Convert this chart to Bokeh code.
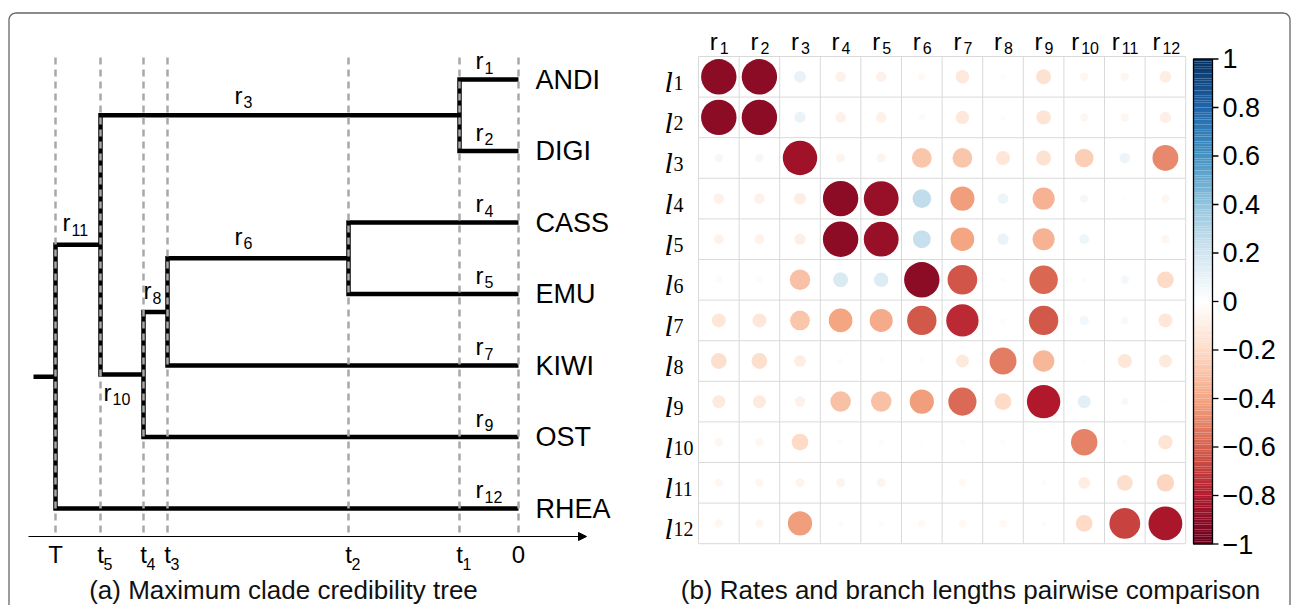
import numpy as np
from bokeh.plotting import figure
from bokeh.models import Range1d, Arrow, NormalHead
from bokeh.core.properties import value
from bokeh.embed import file_html
from bokeh.resources import INLINE

# ---------------- data ----------------
tip_names = ["ANDI", "DIGI", "CASS", "EMU", "KIWI", "OST", "RHEA"]
time_labels = ["T", "t5", "t4", "t3", "t2", "t1", "0"]
time_ages = [46.3, 41.8, 37.5, 35.1, 17.0, 5.9, 0.0]
# internal nodes: (node, age label, first child, second child)
clades = [
    ("n1", "t1", "ANDI", "DIGI"),
    ("n2", "t2", "CASS", "EMU"),
    ("n3", "t3", "n2", "KIWI"),
    ("n4", "t4", "n3", "OST"),
    ("n5", "t5", "n1", "n4"),
    ("root", "T", "n5", "RHEA"),
]
# branch (named by its lower node) -> rate index
branch_rate = {"ANDI": 1, "DIGI": 2, "n1": 3, "CASS": 4, "EMU": 5, "n2": 6,
               "KIWI": 7, "n3": 8, "OST": 9, "n4": 10, "n5": 11, "RHEA": 12}

rate_idx = [str(i) for i in range(1, 13)]
length_idx = [str(i) for i in range(1, 13)]
# rows: l1..l12, columns: r1..r12
corr = [
    [-0.90, -0.90, 0.10, -0.08, -0.08, -0.04, -0.13, -0.02, -0.16, -0.05, -0.05, -0.10],
    [-0.90, -0.90, 0.09, -0.08, -0.08, -0.03, -0.13, 0.02, -0.15, -0.05, -0.05, -0.09],
    [0.05, 0.05, -0.85, -0.06, -0.06, -0.28, -0.28, -0.14, -0.16, -0.25, 0.08, -0.48],
    [-0.08, -0.08, -0.10, -0.90, -0.87, 0.25, -0.42, 0.08, -0.35, 0.05, -0.01, -0.05],
    [-0.07, -0.07, -0.09, -0.90, -0.87, 0.23, -0.40, 0.09, -0.35, 0.07, 0.01, -0.05],
    [-0.03, -0.03, -0.30, 0.16, 0.15, -0.90, -0.63, -0.02, -0.58, -0.02, 0.05, -0.20],
    [-0.14, -0.14, -0.28, -0.40, -0.38, -0.62, -0.75, -0.02, -0.62, 0.06, 0.04, -0.14],
    [-0.18, -0.18, -0.10, -0.02, -0.02, -0.02, -0.12, -0.52, -0.33, -0.01, -0.14, -0.12],
    [-0.12, -0.12, -0.08, -0.30, -0.30, -0.42, -0.57, -0.20, -0.80, 0.12, 0.04, -0.01],
    [-0.05, -0.05, -0.20, -0.02, -0.02, -0.01, -0.02, -0.02, 0.00, -0.50, -0.02, -0.15],
    [-0.05, -0.05, -0.06, -0.06, -0.06, 0.00, -0.04, -0.01, -0.02, -0.10, -0.18, -0.22],
    [-0.05, -0.05, -0.42, -0.02, -0.02, -0.04, -0.04, -0.04, -0.02, -0.20, -0.68, -0.82],
]
cbar_ticks = [1, 0.8, 0.6, 0.4, 0.2, 0, -0.2, -0.4, -0.6, -0.8, -1]

# ---------------- styling ----------------
SANS = value("Liberation Sans")
SERIF = value("Liberation Serif")
rdbu = ["#67001F", "#B2182B", "#D6604D", "#F4A582", "#FDDBC7", "#FFFFFF",
        "#D1E5F0", "#92C5DE", "#4393C3", "#2166AC", "#053061"]


def rdbu_color(v):
    pos = (np.clip(v, -1, 1) + 1) / 2 * (len(rdbu) - 1)
    i = min(int(np.floor(pos)), len(rdbu) - 2)
    f = pos - i
    a = np.array([int(rdbu[i][k:k + 2], 16) for k in (1, 3, 5)])
    b = np.array([int(rdbu[i + 1][k:k + 2], 16) for k in (1, 3, 5)])
    c = np.round(a + (b - a) * f).astype(int)
    return "#%02x%02x%02x" % tuple(c)


W, H = 1293, 605
p = figure(width=W, height=H, output_backend="svg", toolbar_location=None,
           x_range=Range1d(51.8, -77.5), y_range=Range1d(7.3566, -1.1049),
           x_axis_type=None, y_axis_type=None, min_border=0)
p.grid.visible = False
p.outline_line_color = None
p.background_fill_color = "white"
p.border_fill_color = "white"
p.extra_x_ranges = {"page": Range1d(0, W), "col": Range1d(-16.692, 15.155)}
p.extra_y_ranges = {"page": Range1d(H, 0), "row": Range1d(14.022, -0.879),
                    "cb": Range1d(-1.2536, 1.2412)}

# rounded frame around the figure
rad = 7
t1 = np.linspace(np.pi, 1.5 * np.pi, 12)
t2 = np.linspace(1.5 * np.pi, 2 * np.pi, 12)
fx = np.concatenate([[8.5], 8.5 + rad + rad * np.cos(t1), 1289.5 - rad + rad * np.cos(t2), [1289.5]])
fy = np.concatenate([[640], 12.5 + rad + rad * np.sin(t1), 12.5 + rad + rad * np.sin(t2), [640]])
p.line(fx, fy, x_range_name="page", y_range_name="page", line_color="#666666", line_width=1.3)

# ---------------- (a) tree ----------------
age_of = dict(zip(time_labels, time_ages))
node_age = {t: 0.0 for t in tip_names}
node_y = {t: float(i) for i, t in enumerate(tip_names)}
for node, lab, a, b in clades:
    node_age[node] = age_of[lab]
    node_y[node] = (node_y[a] + node_y[b]) / 2

xs, ys = [], []
for node, lab, a, b in clades:
    age = node_age[node]
    xs.append([node_age[a], age, age, node_age[b]])
    ys.append([node_y[a], node_y[a], node_y[b], node_y[b]])
root_age = node_age["root"]
xs.append([root_age + 2.2, root_age])
ys.append([node_y["root"], node_y["root"]])
p.multi_line(xs, ys, line_color="black", line_width=4.5, line_join="miter", line_cap="butt")

# dashed time guides
p.segment(x0=time_ages, y0=[57] * 7, x1=time_ages, y1=[536] * 7, y_range_name="page",
          line_color="#A8A8A8", line_width=2.5, line_dash="7 5")

# time axis
p.add_layout(Arrow(x_start=28, y_start=536, x_end=586, y_end=536,
                   x_range_name="page", y_range_name="page", line_width=1.2,
                   end=NormalHead(size=8, fill_color="black", line_color="black", line_width=1)))
main_t = [s[0] for s in time_labels]
sub_t = [s[1:] for s in time_labels]
p.text(x=time_ages, y=[554] * 7, text=main_t, y_range_name="page", text_align="center",
       text_baseline="alphabetic", text_font=SANS, text_font_size="24px", text_color="black")
sub_x = [a for a, s in zip(time_ages, sub_t) if s]
p.text(x=sub_x, y=[563] * len(sub_x), text=[s for s in sub_t if s], y_range_name="page",
       x_offset=3, text_align="left", text_baseline="alphabetic", text_font=SANS,
       text_font_size="16px", text_color="black")

# tip names
p.text(x=[0.0] * 7, y=[node_y[t] for t in tip_names], text=tip_names, x_offset=17,
       text_align="left", text_baseline="middle", text_font=SANS, text_font_size="27px",
       text_color="black")

# rate labels on branches: anchor time, horizontal offset (px), vertical offset (px)
label_anchor = {1: ("t1", 16, -19), 2: ("t1", 16, -19), 3: ("t3", 67, -20),
                4: ("t1", 16, -19), 5: ("t1", 16, -19), 6: ("t3", 67, -22),
                7: ("t1", 16, -19), 8: ("t4", 0, -21), 9: ("t1", 16, -19),
                10: ("t5", 3, 18), 11: ("T", 7, -22), 12: ("t1", 16, -19)}
lx, ly, lxo, lyo, lsub = [], [], [], [], []
for br, r in branch_rate.items():
    lab, dx, dy = label_anchor[r]
    lx.append(age_of[lab])
    ly.append(node_y[br])
    lxo.append(dx)
    lyo.append(dy)
    lsub.append(rate_idx[r - 1])
p.text(x=lx, y=ly, text=["r"] * len(lx), x_offset=lxo, y_offset=lyo, text_align="left",
       text_baseline="alphabetic", text_font=SANS, text_font_size="24px", text_color="black")
p.text(x=lx, y=ly, text=lsub, x_offset=[d + 9 for d in lxo], y_offset=[d + 7 for d in lyo],
       text_align="left", text_baseline="alphabetic", text_font=SANS, text_font_size="16px",
       text_color="black")

# ---------------- (b) correlation circles ----------------
n = len(rate_idx)
edges = np.arange(n + 1) + 0.5
p.segment(x0=edges, y0=[0.5] * (n + 1), x1=edges, y1=[n + 0.5] * (n + 1),
          x_range_name="col", y_range_name="row", line_color="#D9D9D9", line_width=1)
p.segment(x0=[0.5] * (n + 1), y0=edges, x1=[n + 0.5] * (n + 1), y1=edges,
          x_range_name="col", y_range_name="row", line_color="#D9D9D9", line_width=1)

cx, cy, cr, cc = [], [], [], []
for i, row in enumerate(corr):
    for j, v in enumerate(row):
        cx.append(j + 1)
        cy.append(i + 1)
        cr.append(0.46 * np.sqrt(abs(v)))
        cc.append(rdbu_color(v))
p.circle(x=cx, y=cy, radius=cr, fill_color=cc, line_color=None,
         x_range_name="col", y_range_name="row")

# column labels r_j
cols = np.arange(1, n + 1)
p.text(x=cols, y=[41] * n, text=["r"] * n, x_range_name="col", y_range_name="page",
       x_offset=[-1 - 4 * (len(s) - 1) for s in rate_idx], text_align="right",
       text_baseline="alphabetic", text_font=SANS, text_font_size="24px", text_color="black")
p.text(x=cols, y=[47] * n, text=rate_idx, x_range_name="col", y_range_name="page",
       x_offset=[1 - 4 * (len(s) - 1) for s in rate_idx], text_align="left",
       text_baseline="alphabetic", text_font=SANS, text_font_size="16px", text_color="black")

# row labels l_i
p.text(x=[664] * n, y=cols, text=["l"] * n, x_range_name="page", y_range_name="row",
       y_offset=5, text_align="left", text_baseline="alphabetic", text_font=SERIF,
       text_font_style="italic", text_font_size="30px", text_color="black")
p.text(x=[673] * n, y=cols, text=length_idx, x_range_name="page", y_range_name="row",
       y_offset=6, text_align="left", text_baseline="alphabetic", text_font=SERIF,
       text_font_size="20px", text_color="black")

# colour bar
steps = np.linspace(-1, 1, 201)
p.quad(left=[1193] * 200, right=[1212] * 200, bottom=steps[:-1], top=steps[1:],
       fill_color=[rdbu_color((a + b) / 2) for a, b in zip(steps[:-1], steps[1:])],
       line_color=None, x_range_name="page", y_range_name="cb")
p.quad(left=[1193], right=[1212], bottom=[-1], top=[1], fill_color=None,
       line_color="black", line_width=1.3, x_range_name="page", y_range_name="cb")
p.segment(x0=[1212] * len(cbar_ticks), y0=cbar_ticks, x1=[1218] * len(cbar_ticks), y1=cbar_ticks,
          line_color="black", line_width=1.3, x_range_name="page", y_range_name="cb")
p.text(x=[1222] * len(cbar_ticks), y=cbar_ticks,
       text=[("\u2212" if t < 0 else "") + ("%g" % abs(t)) for t in cbar_ticks],
       x_range_name="page", y_range_name="cb", text_align="left", text_baseline="middle",
       text_font=SANS, text_font_size="27px", text_color="black")

# captions
p.text(x=[283, 970], y=[589, 589],
       text=["(a) Maximum clade credibility tree", "(b) Rates and branch lengths pairwise comparison"],
       x_range_name="page", y_range_name="page", text_align="center", text_baseline="alphabetic",
       text_font=SANS, text_font_size="26px", text_color="#111111")

open("out.html", "w").write(file_html(p, INLINE))
